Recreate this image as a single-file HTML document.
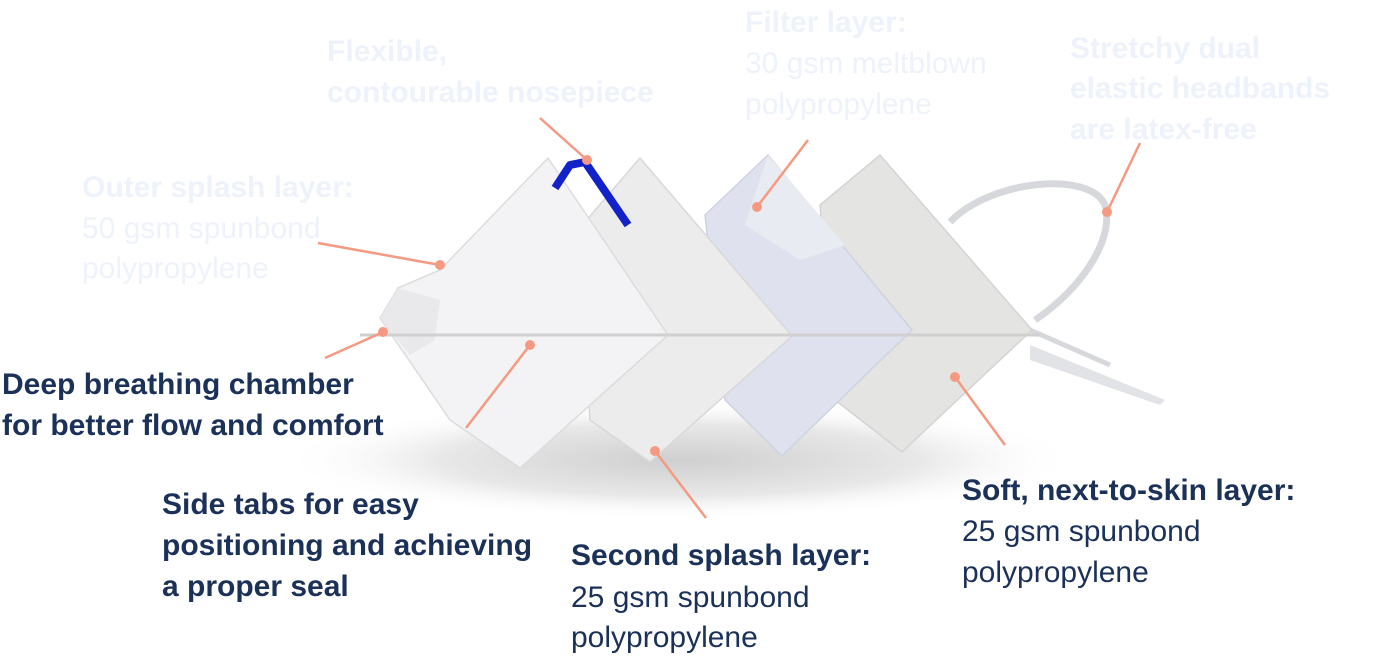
<!DOCTYPE html>
<html><head><meta charset="utf-8"><style>
html,body{margin:0;padding:0;background:#fff;}
svg{display:block;}
text{font-family:"Liberation Sans",sans-serif;font-size:30px;}
.d{fill:#1b3158;}
.l{fill:#eef2fa;}
.b{font-weight:bold;}
.ln{stroke:#f59a82;stroke-width:2.5;fill:none;}
.dt{fill:#f59a82;}
</style></head><body>
<svg width="1378" height="657" viewBox="0 0 1378 657" xmlns="http://www.w3.org/2000/svg">
<defs>
<radialGradient id="sh" cx="50%" cy="50%" r="50%">
<stop offset="0" stop-color="#cfcfcf"/><stop offset="0.6" stop-color="#e8e8e8"/><stop offset="1" stop-color="#fff" stop-opacity="0"/>
</radialGradient>
</defs>
<ellipse cx="680" cy="460" rx="400" ry="60" fill="url(#sh)"/>
<path d="M950,222 C990,180 1090,170 1105,205 C1115,240 1080,290 1035,320" stroke="#d6d8dc" stroke-width="7" fill="none"/>
<path d="M1030,345 L1165,400 L1160,405 L1030,360 Z" fill="#e2e3e6"/>
<path d="M1030,330 L1110,365" stroke="#d6d8dc" stroke-width="5" fill="none"/>
<polygon points="880,155 1032,330 902,452 835,400 820,205" fill="#e4e4e3" stroke="#d4d4d4" stroke-width="1.5"/>
<polygon points="768,155 912,330 782,456 725,400 705,215" fill="#dfe2ee" stroke="#cfd3df" stroke-width="1.5"/>
<polygon points="768,155 845,245 800,260 745,225" fill="#e9ebf3"/>
<polygon points="640,158 792,336 650,462 590,420 578,230" fill="#ececec" stroke="#d8d8d8" stroke-width="1.5"/>
<polygon points="548,158 668,335 520,468 450,420 380,318 398,288 440,270" fill="#f3f3f5" stroke="#dcdcdc" stroke-width="1.5"/>
<polygon points="380,318 398,288 440,300 435,340 410,355" fill="#e9e9ec"/>
<line x1="360" y1="335" x2="1040" y2="335" stroke="#d0d0d0" stroke-width="3"/>
<path d="M555,188 L570,165 L585,162 L628,225" stroke="#1222c8" stroke-width="8" fill="none" stroke-linejoin="round"/>
<g>
<line class="ln" x1="540" y1="118" x2="587" y2="160"/><circle class="dt" cx="587" cy="160" r="5"/>
<line class="ln" x1="808" y1="140" x2="757" y2="207"/><circle class="dt" cx="757" cy="207" r="5"/>
<line class="ln" x1="1140" y1="143" x2="1107" y2="212"/><circle class="dt" cx="1107" cy="212" r="5"/>
<line class="ln" x1="318" y1="243" x2="440" y2="265"/><circle class="dt" cx="440" cy="265" r="5"/>
<line class="ln" x1="325" y1="358" x2="383" y2="332"/><circle class="dt" cx="383" cy="332" r="5"/>
<line class="ln" x1="466" y1="428" x2="530" y2="345"/><circle class="dt" cx="530" cy="345" r="5"/>
<line class="ln" x1="706" y1="518" x2="655" y2="451"/><circle class="dt" cx="655" cy="451" r="5"/>
<line class="ln" x1="1005" y1="445" x2="955" y2="377"/><circle class="dt" cx="955" cy="377" r="5"/>
</g>
<text class="l b" x="327" y="61">Flexible,</text>
<text class="l b" x="327" y="102">contourable nosepiece</text>
<text class="l b" x="745" y="32">Filter layer:</text>
<text class="l" x="745" y="73">30 gsm meltblown</text>
<text class="l" x="745" y="114">polypropylene</text>
<text class="l b" x="1070" y="58">Stretchy dual</text>
<text class="l b" x="1070" y="98">elastic headbands</text>
<text class="l b" x="1070" y="139">are latex-free</text>
<text class="l b" x="82" y="197">Outer splash layer:</text>
<text class="l" x="82" y="238">50 gsm spunbond</text>
<text class="l" x="82" y="278">polypropylene</text>
<text class="d b" x="2" y="394">Deep breathing chamber</text>
<text class="d b" x="2" y="435">for better flow and comfort</text>
<text class="d b" x="162" y="514">Side tabs for easy</text>
<text class="d b" x="162" y="555">positioning and achieving</text>
<text class="d b" x="162" y="596">a proper seal</text>
<text class="d b" x="571" y="565">Second splash layer:</text>
<text class="d" x="571" y="607">25 gsm spunbond</text>
<text class="d" x="571" y="647">polypropylene</text>
<text class="d b" x="962" y="500">Soft, next-to-skin layer:</text>
<text class="d" x="962" y="541">25 gsm spunbond</text>
<text class="d" x="962" y="582">polypropylene</text>
</svg>
</body></html>
